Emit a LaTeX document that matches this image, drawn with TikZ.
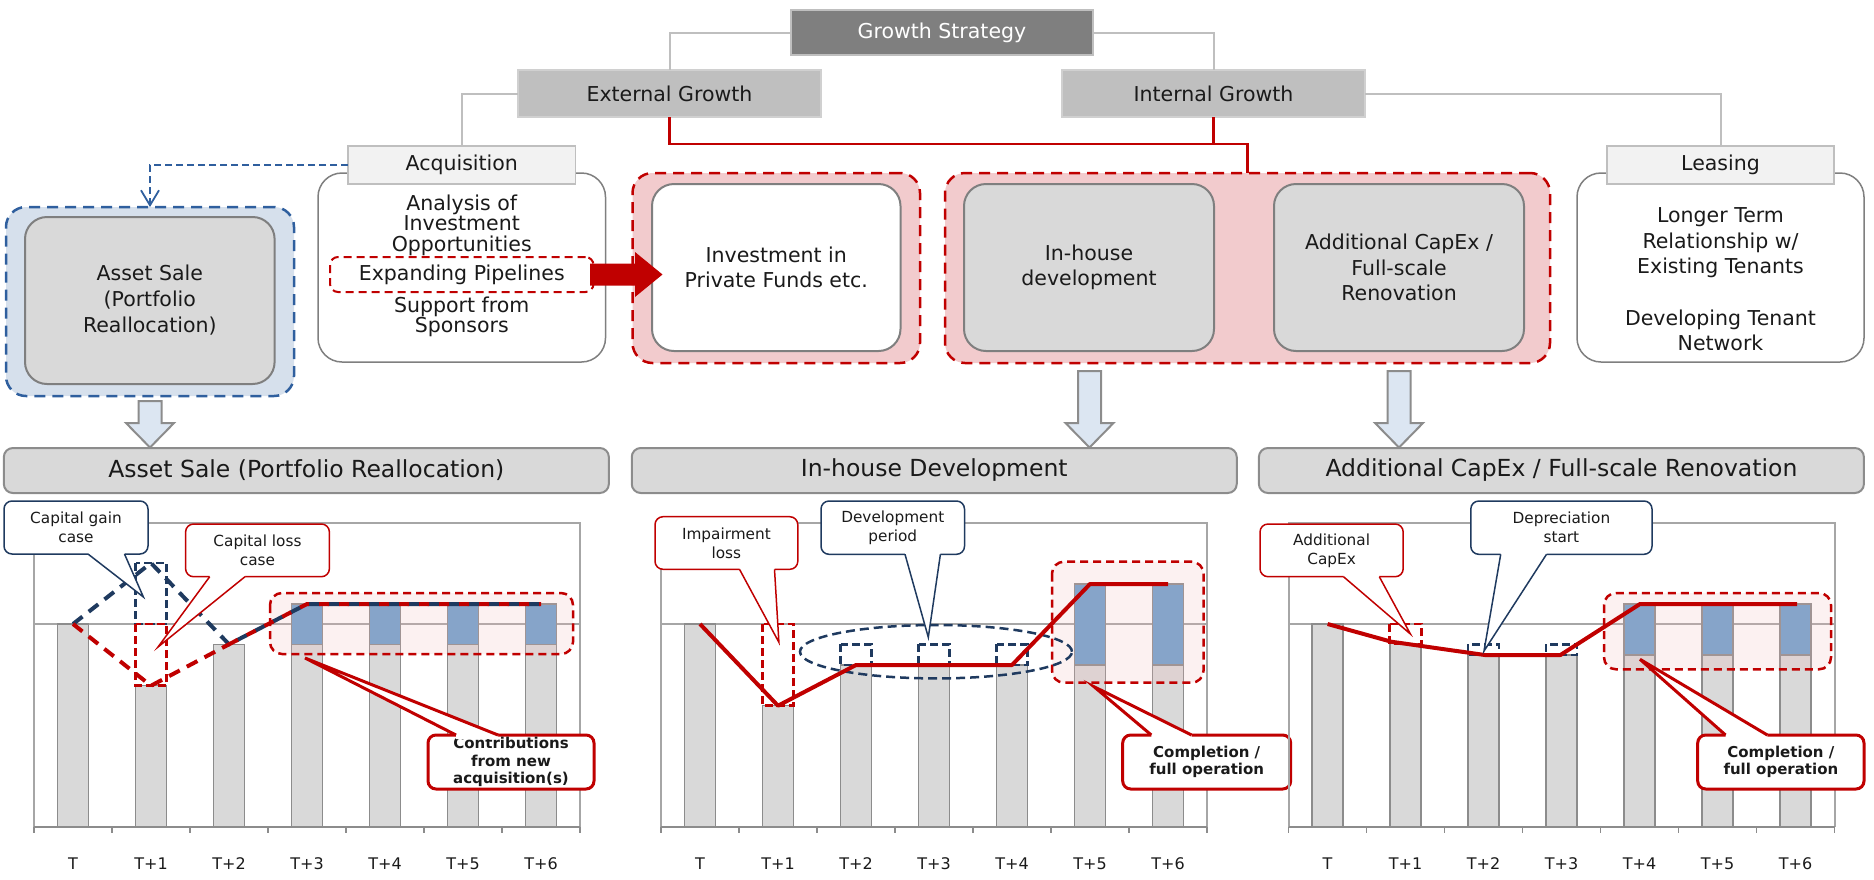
\documentclass[tikz,border=0pt]{standalone}
\usepackage{fontspec}
\setmainfont{DejaVu Sans}
\usetikzlibrary{arrows.meta,shapes.geometric}
\definecolor{red0}{HTML}{C00000}
\definecolor{navy}{HTML}{1F3A5F}
\definecolor{blued}{HTML}{2F5F9E}
\definecolor{gsfill}{HTML}{7F7F7F}
\definecolor{gsline}{HTML}{BFBFBF}
\definecolor{lvlfill}{HTML}{BFBFBF}
\definecolor{lvlline}{HTML}{D0D0D0}
\definecolor{hdrfill}{HTML}{F2F2F2}
\definecolor{hdrline}{HTML}{BFBFBF}
\definecolor{connc}{HTML}{BFBFBF}
\definecolor{bodyline}{HTML}{7F7F7F}
\definecolor{innerfill}{HTML}{D9D9D9}
\definecolor{innerline}{HTML}{7F7F7F}
\definecolor{bluefill}{HTML}{D6E0EC}
\definecolor{pinkfill}{HTML}{F2CBCD}
\definecolor{pinkbox}{HTML}{F2B8B8}
\definecolor{barg}{HTML}{D9D9D9}
\definecolor{barline}{HTML}{8C8C8C}
\definecolor{barb}{HTML}{6CA0CE}
\definecolor{framec}{HTML}{A6A6A6}
\definecolor{arrfill}{HTML}{DCE6F2}
\definecolor{txt}{HTML}{1A1A1A}
\newcommand\fs[2]{\fontsize{#1}{#2}\selectfont}
% pointer of a callout: style, base x1, base x2, base y, inner y, tip
\newcommand\ptr[6]{\fill[white] (#2,#5) -- (#2,#4) -- #6 -- (#3,#4) -- (#3,#5) -- cycle;
  \draw[#1] (#2,#4) -- #6 -- (#3,#4);}
% chart: left x, gray bars, blue bars, name prefix
\newcommand\chart[4]{%
  \draw[framec, line width=1.5pt] (#1,624) -- (#1+546,624);
  \foreach \i/\tp in {#2} {\draw[barline, fill=barg, line width=1.5pt] (#1+23.5+78*\i,\tp) rectangle (#1+54.5+78*\i,827);}
  \foreach \i/\ga/\gb in {#3} {\draw[barline, fill=barb, line width=1.5pt] (#1+23.5+78*\i,\ga) rectangle (#1+54.5+78*\i,\gb);}
  \draw[framec, line width=2pt] (#1,827) -- (#1,522.7) -- (#1+546,522.7) -- (#1+546,827);
  \draw[barline, line width=2.5pt] (#1,827) -- (#1+546,827);
  \foreach \k in {0,...,7} {\draw[barline, line width=1.5pt] (#1+78*\k,827) -- (#1+78*\k,833);}
  \foreach \i/\lab in {0/T,1/T+1,2/T+2,3/T+3,4/T+4,5/T+5,6/T+6} {\node[axlab] (#4\i) at (#1+39+78*\i,864) {\lab};}
}
\newcommand\blockarrow[2]{\draw[draw=barline, fill=arrfill, line width=2pt]
  (#1-11.5,#2) -- (#1+11.5,#2) -- (#1+11.5,423) -- (#1+24,423) -- (#1,447.5) -- (#1-24,423) -- (#1-11.5,423) -- cycle;}
\begin{document}
\begin{tikzpicture}[x=1pt,y=-1pt,
  every node/.style={inner sep=0pt, outer sep=0pt},
  gsbox/.style={rectangle, fill=gsfill, draw=gsline, line width=1.5pt, text=white, font=\fs{20.5}{24}},
  lvlbox/.style={rectangle, fill=lvlfill, draw=lvlline, line width=1.2pt, text=txt, font=\fs{20.5}{24}},
  hdrbox/.style={rectangle, fill=hdrfill, draw=hdrline, line width=1.5pt, text=txt, font=\fs{20.5}{24}},
  bodybox/.style={rectangle, rounded corners=24pt, fill=white, draw=bodyline, line width=1.5pt},
  innerbox/.style={rectangle, rounded corners=22pt, fill=innerfill, draw=innerline, line width=2pt, text=txt, align=center, font=\fs{20.5}{25.5}},
  pinkgrp/.style={rectangle, rounded corners=20pt, fill=pinkfill, draw=red0, line width=2.5pt, dash pattern=on 11pt off 7pt},
  bluegrp/.style={rectangle, rounded corners=20pt, fill=bluefill, draw=blued, line width=2.5pt, dash pattern=on 11pt off 7pt},
  toptxt/.style={align=center, text=txt},
  conn/.style={draw=connc, line width=2pt},
  redconn/.style={draw=red0, line width=2.5pt},
  axlab/.style={font=\fs{16}{18}, text=txt},
  ttlbar/.style={rectangle, rounded corners=9pt, fill=innerfill, draw=barline, line width=2pt, minimum width=605pt, minimum height=45pt, text=txt, font=\fs{23.5}{28}},
  cbox/.style={rectangle, rounded corners=8pt, fill=white, line width=1.5pt, align=center, text=txt, font=\fs{15.3}{19}},
  cboxb/.style={rectangle, rounded corners=8pt, fill=white, draw=red0, line width=3pt, align=center, text=txt, font=\fs{15}{17.5}\bfseries},
  pinkdash/.style={rounded corners=12pt, fill=pinkbox, fill opacity=0.2, draw=red0, draw opacity=1, line width=2.5pt, dash pattern=on 8pt off 5pt},
  smallred/.style={draw=red0, line width=2.5pt, dash pattern=on 8pt off 4pt},
  smallnavy/.style={draw=navy, line width=2.5pt, dash pattern=on 8pt off 4pt},
  redline/.style={draw=red0, line width=4pt, line join=round},
]
\useasboundingbox (0,0) rectangle (1874,879);

% ---------- top tree ----------
\node[gsbox, minimum width=302pt, minimum height=45pt] (gs) at (942,32.5) {Growth Strategy};
\node[lvlbox, minimum width=303pt, minimum height=47pt] (ext) at (669.5,93.5) {External Growth};
\node[lvlbox, minimum width=303pt, minimum height=47pt] (int) at (1213.5,93.5) {Internal Growth};

\node[bodybox, minimum width=287.5pt, minimum height=189pt] (acqb) at (461.75,267.5) {};
\node[hdrbox, minimum width=227.5pt, minimum height=38pt] (acqh) at (461.75,165) {Acquisition};
\node[bodybox, minimum width=287pt, minimum height=189pt] (leab) at (1720.5,267.5) {};
\node[hdrbox, minimum width=227pt, minimum height=38pt] (leah) at (1720.5,165) {Leasing};

\draw[conn] (gs.west) -| (ext.north);
\draw[conn] (gs.east) -| (int.north);
\draw[conn] (ext.west) -| (acqh.north);
\draw[conn] (int.east) -| (leah.north);

\node[bluegrp, minimum width=288pt, minimum height=189pt] (asg) at (150,301.5) {};
\node[innerbox, minimum width=249.6pt, minimum height=167pt, font=\fs{20.5}{26}] (asi) at (149.8,300.5) {Asset Sale\\(Portfolio\\Reallocation)};

\node[pinkgrp, minimum width=287.5pt, minimum height=190pt] (ivg) at (776.25,268) {};
\node[innerbox, fill=white, minimum width=248.5pt, minimum height=167pt] (ivi) at (776.25,267.5) {Investment in\\Private Funds etc.};

\node[pinkgrp, minimum width=605pt, minimum height=190pt] (ing) at (1247.5,268) {};
\node[innerbox, minimum width=250pt, minimum height=167pt] (ihd) at (1089,267.5) {In-house\\development};
\node[innerbox, minimum width=250pt, minimum height=167pt] (cpx) at (1399,267.5) {Additional CapEx /\\Full-scale\\Renovation};

\coordinate (redj) at (1213.5,144);
\draw[redconn] (ext.south) |- (redj) -| (ing.north);
\draw[redconn] (int.south) -- (redj);

\node[toptxt, font=\fs{20.5}{20.5}] (acqt1) at (461.75,225) {Analysis of\\Investment\\Opportunities};
\node[rectangle, rounded corners=8pt, fill=white, draw=red0, line width=2pt, dash pattern=on 8pt off 5pt, minimum width=263.5pt, minimum height=35pt, text=txt, font=\fs{20.5}{24}] (pipe) at (461.75,274.5) {Expanding Pipelines};
\node[toptxt, font=\fs{20.5}{20.5}] (acqt2) at (461.75,317) {Support from\\Sponsors};
\node[toptxt, font=\fs{20.5}{25.5}] (leat) at (1720.5,279.5) {Longer Term\\Relationship w/\\Existing Tenants\\[26pt]Developing Tenant\\Network};

\draw[blued, line width=2pt, dash pattern=on 7pt off 4pt, -{Straight Barb[length=15pt,width=18pt,line width=1.8pt]}] (acqh.west) -| (asg.north);

\fill[red0] (590,263.5) -- (635,263.5) -- (635,252) -- (662.5,274.5) -- (635,297) -- (635,285.5) -- (590,285.5) -- cycle;

\blockarrow{150}{401}
\blockarrow{1089.5}{371}
\blockarrow{1399}{371}

% ---------- chart titles ----------
\node[ttlbar] (t1) at (306.35,470.5) {Asset Sale (Portfolio Reallocation)};
\node[ttlbar] (t2) at (934.25,470.5) {In-house Development};
\node[ttlbar] (t3) at (1561.4,470.5) {Additional CapEx / Full-scale Renovation};

% ---------- chart 1: asset sale ----------
\chart{34}{0/624,1/685.7,2/644.3,3/644.3,4/644.3,5/644.3,6/644.3}{3/604/644.3,4/604/644.3,5/604/644.3,6/604/644.3}{a}
\draw[pinkdash] (270,593) rectangle (573,654);
\draw[smallnavy] (135.5,563) rectangle (166.5,624);
\draw[smallred] (135.5,624) rectangle (166.5,685.7);
\draw[navy, line width=4pt, dash pattern=on 12pt off 8pt] (73,624) -- (151,563) -- (229,644.3) -- (307,604) -- (541,604);
\draw[red0, line width=4pt, dash pattern=on 12pt off 8pt] (73,624) -- (151,685.7) -- (229,644.3);
\draw[red0, line width=4pt, dash pattern=on 10pt off 10pt] (229,644.3) -- (307,604) -- (541,604);

\node[cbox, draw=navy, minimum width=144pt, minimum height=53pt] (cg) at (76,527.5) {Capital gain\\case};
\ptr{navy, line width=1.5pt}{88}{124.5}{554}{551}{(143.4,597)}
\node[cbox, draw=red0, minimum width=143.8pt, minimum height=52.7pt] (cl) at (257.5,550.35) {Capital loss\\case};
\ptr{red0, line width=1.5pt}{209.7}{245}{576.7}{573.7}{(158,647)}
\node[cboxb, minimum width=166pt, minimum height=54pt] (ctr) at (511,762) {Contributions\\from new\\acquisition(s)};
\ptr{red0, line width=3pt}{456}{498}{735}{739}{(305,658)}

% ---------- chart 2: in-house development ----------
\chart{661}{0/624,1/705.7,2/665,3/665,4/665,5/665,6/665}{5/584/665,6/584/665}{b}
\draw[pinkdash] (1052,561.7) rectangle (1203.5,682.7);
\draw[smallred] (762.5,624) rectangle (793.5,705.7);
\foreach \cx in {856,934,1012} {\draw[smallnavy] (\cx-15.5,644.3) rectangle (\cx+15.5,665);}
\draw[navy, line width=2.5pt, dash pattern=on 9pt off 5pt] (936,651.7) ellipse [x radius=136pt, y radius=26.7pt];
\draw[redline] (700,624) -- (778,705.7) -- (856,665) -- (1012,665) -- (1090,584) -- (1168,584);

\node[cbox, draw=red0, minimum width=142.8pt, minimum height=52.6pt] (imp) at (726.4,543) {Impairment\\loss};
\ptr{red0, line width=1.5pt}{739.5}{774.5}{569.3}{566.3}{(778.9,642.3)}
\node[cbox, draw=navy, minimum width=143.5pt, minimum height=53.3pt] (dev) at (892.75,527.65) {Development\\period};
\ptr{navy, line width=1.5pt}{905}{940.4}{554.3}{551.3}{(928.3,637.3)}
\node[cboxb, minimum width=168pt, minimum height=54pt] (cmp1) at (1206.7,762) {Completion /\\full operation};
\ptr{red0, line width=3pt}{1151.3}{1191.5}{735}{739}{(1094,686.7)}

% ---------- chart 3: capex ----------
\chart{1288.6}{0/624,1/643.3,2/655,3/655,4/655,5/655,6/655}{4/604/655,5/604/655,6/604/655}{c}
\draw[pinkdash] (1604,593) rectangle (1831,669.3);
\draw[smallred] (1389.6,624) rectangle (1421.6,644);
\foreach \cx in {1483.6,1561.6} {\draw[smallnavy] (\cx-15.5,644.3) rectangle (\cx+15.5,655);}
\draw[redline] (1327.6,624) -- (1391.3,641.7) -- (1484.8,655) -- (1560.4,655) -- (1640,604) -- (1797,604);

\node[cbox, draw=red0, minimum width=143.2pt, minimum height=52.7pt] (acx) at (1331.6,550.35) {Additional\\CapEx};
\ptr{red0, line width=1.5pt}{1343.5}{1379.3}{576.7}{573.7}{(1410.4,634)}
\node[cbox, draw=navy, minimum width=181.2pt, minimum height=53.3pt] (dep) at (1561.4,527.65) {Depreciation\\start};
\ptr{navy, line width=1.5pt}{1500.7}{1546.5}{554.3}{551.3}{(1484,651)}
\node[cboxb, minimum width=166.3pt, minimum height=54pt] (cmp2) at (1780.85,762) {Completion /\\full operation};
\ptr{red0, line width=3pt}{1725.5}{1767.3}{735}{739}{(1640,659.3)}
\end{tikzpicture}
\end{document}
